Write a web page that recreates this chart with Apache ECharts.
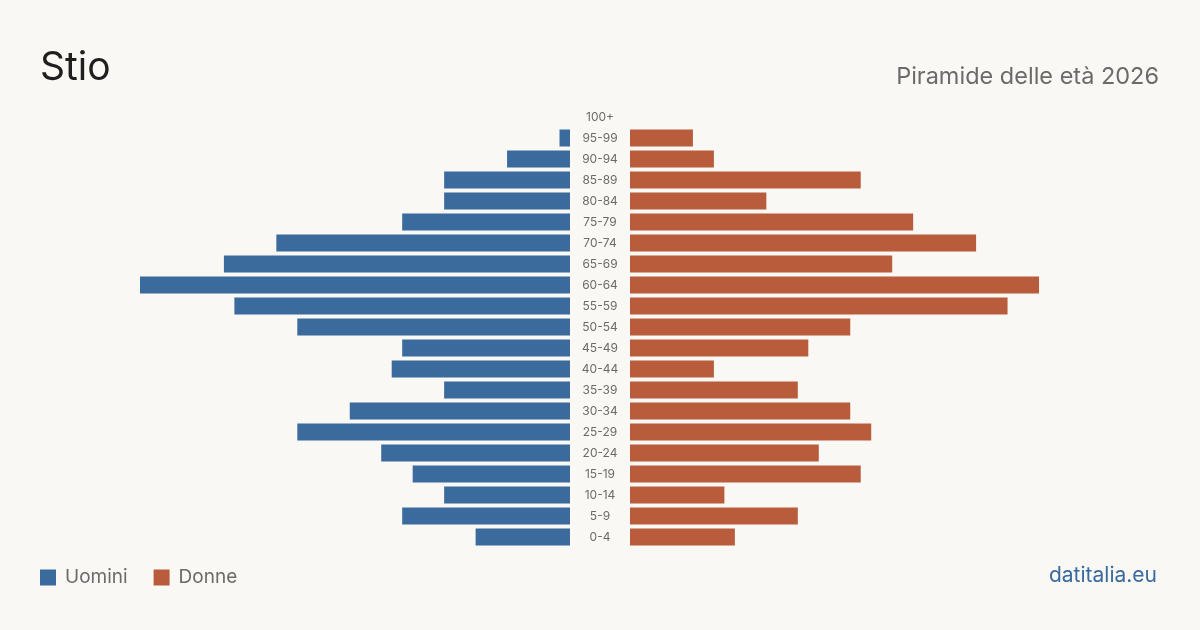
<!DOCTYPE html>
<html><head><meta charset="utf-8">
<script src="https://cdn.jsdelivr.net/npm/echarts@6/dist/echarts.min.js"></script>
<style>html,body{margin:0;padding:0;background:#f9f8f4;}#c{width:1200px;height:630px;}</style>
</head><body><div id="c"></div>
<script>
const categories = ['0-4','5-9','10-14','15-19','20-24','25-29','30-34','35-39','40-44','45-49','50-54','55-59','60-64','65-69','70-74','75-79','80-84','85-89','90-94','95-99','100+'];
const uomini = [9,16,12,15,18,26,21,12,17,16,26,32,41,33,28,16,12,12,6,1,0];
const donne = [10,16,9,22,18,23,21,16,8,17,21,36,39,25,33,27,13,22,8,6,0];
const maxVal = 41;

const font = 'Inter, "Noto Sans", sans-serif';
const chart = echarts.init(document.getElementById('c'), null, {renderer:'canvas'});
chart.setOption({
  backgroundColor: '#f9f8f4',
  animation: false,
  title: [
    {text:'Stio', left:40, top:49, padding:0, textStyle:{fontFamily:font, fontSize:39, fontWeight:'normal', color:'#1f1f1f'}},
    {text:'Piramide delle età 2026', right:41, top:65, padding:0, textStyle:{fontFamily:font, fontSize:23.5, fontWeight:'normal', color:'#6b6b6b'}},
    {text:'datitalia.eu', right:43, top:565, padding:0, textStyle:{fontFamily:font, fontSize:21, fontWeight:'normal', color:'#3a6a9e'}}
  ],
  legend: {
    left: 40, top: 568, padding:0, itemWidth: 16, itemHeight: 16, itemGap: 26,
    icon: 'rect',
    textStyle: {fontFamily:font, fontSize:19, color:'#6b6b6b', padding:[0,0,0,4]},
    data: ['Uomini','Donne']
  },
  grid: [
    {left:140, right:630, top:106.5, bottom:82.5},
    {left:630, right:140, top:106.5, bottom:82.5}
  ],
  xAxis: [
    {gridIndex:0, type:'value', inverse:true, min:0, max:maxVal, show:false},
    {gridIndex:1, type:'value', min:0, max:maxVal, show:false}
  ],
  yAxis: [
    {gridIndex:0, type:'category', data:categories, position:'right', axisLine:{show:false}, axisTick:{show:false}, axisLabel:{show:false}, splitLine:{show:false}},
    {gridIndex:1, type:'category', data:categories, position:'left', axisLine:{show:false}, axisTick:{show:false}, splitLine:{show:false},
     axisLabel:{show:true, align:'center', margin:30, fontFamily:font, fontSize:12, color:'#6b6b6b'}}
  ],
  series: [
    {name:'Uomini', type:'bar', xAxisIndex:0, yAxisIndex:0, data:uomini, barCategoryGap:'19%', itemStyle:{color:'#3a6b9c'}},
    {name:'Donne', type:'bar', xAxisIndex:1, yAxisIndex:1, data:donne, barCategoryGap:'19%', itemStyle:{color:'#b95c3c'}}
  ]
});
</script></body></html>
